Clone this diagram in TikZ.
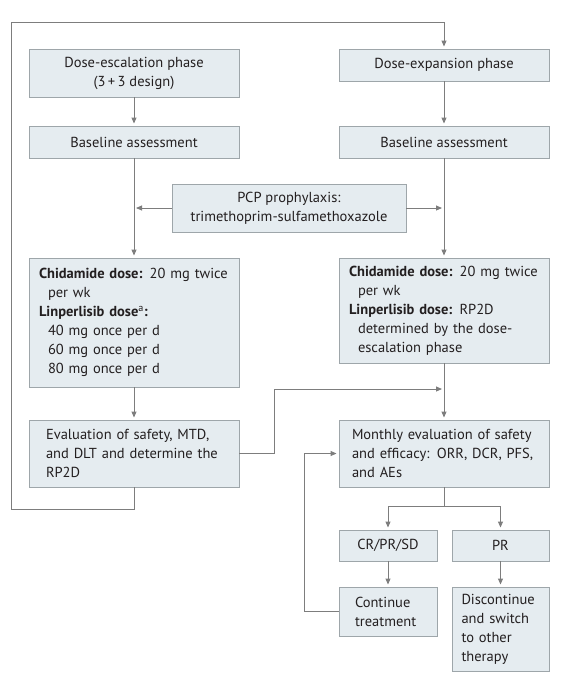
\documentclass[tikz,border=0pt]{standalone}
\usepackage{fontspec}
\setmainfont{PT Sans}
\usepackage{tikz}
\usetikzlibrary{arrows.meta, positioning, calc}

\definecolor{boxfill}{RGB}{229,236,240}
\definecolor{boxedge}{RGB}{158,166,170}
\definecolor{linegray}{RGB}{125,125,125}
\definecolor{ink}{RGB}{35,31,32}

\tikzset{
    stage/.style={draw=boxedge, fill=boxfill, text=ink, line width=0.9pt,
        font=\fontsize{14.5}{19}\selectfont, align=center, inner sep=0pt,
        minimum width=210pt, minimum height=32pt},
    flow/.style={draw=linegray, line width=0.9pt,
        -{Triangle[length=6pt, width=5pt]}, shorten >=2pt},
    plain/.style={draw=linegray, line width=0.9pt}
}

\begin{document}
\begin{tikzpicture}[x=1pt, y=-1pt]
    \useasboundingbox (0, 0) rectangle (565, 681);

    % two phases
    \node[stage, minimum height=48pt] (esc) at (134, 73) {Dose-escalation phase\\(3\,+\,3 design)};
    \node[stage] (baseL) at (134, 142) {Baseline assessment};
    \node[stage] (exp) at (444, 65) {Dose-expansion phase};
    \node[stage] (baseR) at (444, 142) {Baseline assessment};
    \node[stage, minimum width=234pt, minimum height=48pt] (pcp) at (289, 208) {PCP prophylaxis:\\trimethoprim-sulfamethoxazole};

    \node[stage, align=left, text width=190pt, minimum height=129pt] (chidL) at (134, 322.5)
        {\textbf{Chidamide dose:} 20 mg twice\\
         \hspace*{9pt}per wk\\
         \textbf{Linperlisib dose}\textsuperscript{a}\textbf{:}\\
         \hspace*{9pt}40 mg once per d\\
         \hspace*{9pt}60 mg once per d\\
         \hspace*{9pt}80 mg once per d};
    \node[stage, align=left, text width=190pt, minimum height=105pt] (chidR) at (444, 310.5)
        {\textbf{Chidamide dose:} 20 mg twice\\
         \hspace*{9pt}per wk\\
         \textbf{Linperlisib dose:} RP2D\\
         \hspace*{9pt}determined by the dose-\\
         \hspace*{9pt}escalation phase};

    \node[stage, align=left, text width=176pt, minimum height=67pt] (eval) at (134, 453.5)
        {Evaluation of safety, MTD,\\and DLT and determine the\\RP2D};
    \node[stage, align=left, text width=184pt, minimum height=67pt] (mon) at (444, 453.5)
        {Monthly evaluation of safety\\and efficacy: ORR, DCR, PFS,\\and AEs};

    % responses
    \node[stage, minimum width=98pt, minimum height=31pt] (crpr) at (388, 545.5) {CR/PR/SD};
    \node[stage, minimum width=97pt, minimum height=31pt] (pr) at (500.5, 545.5) {PR};
    \node[stage, align=left, text width=66pt, minimum width=98pt, minimum height=49pt] (cont) at (388, 611.5)
        {Continue\\treatment};
    \node[stage, align=left, text width=78pt, minimum width=97pt, minimum height=84pt] (disc) at (500.5, 629)
        {Discontinue\\and switch\\to other\\therapy};

    \coordinate (loopB) at (11, 509);
    \coordinate (loopT) at (11, 22);
    \coordinate (jog) at (274, 389);
    \coordinate (back) at (304, 611.5);

    \draw[flow] (esc) -- (baseL);
    \draw[flow] (exp) -- (baseR);
    \draw[flow] (baseL) -- (chidL);
    \draw[flow] (baseR) -- (chidR);
    \draw[flow] (pcp.west) -- (pcp.west -| baseL.south);
    \draw[flow] (pcp.east) -- (pcp.east -| baseR.south);
    \draw[flow] (chidL) -- (eval);
    \draw[flow] (chidR) -- (mon);
    \draw[flow] (eval.east) -| (jog) -- (jog -| mon.north);
    \draw[flow] (eval.south) |- (loopB) -- (loopT) -| (exp.north);

    \draw[plain] (mon.south) -- ++(0, 19) coordinate (split);
    \draw[flow] (split) -| (crpr.north);
    \draw[flow] (split) -| (pr.north);
    \draw[flow] (crpr) -- (cont);
    \draw[flow] (pr) -- (disc);
    \draw[flow] (cont.west) -- (back) |- (mon.west);
\end{tikzpicture}
\end{document}
